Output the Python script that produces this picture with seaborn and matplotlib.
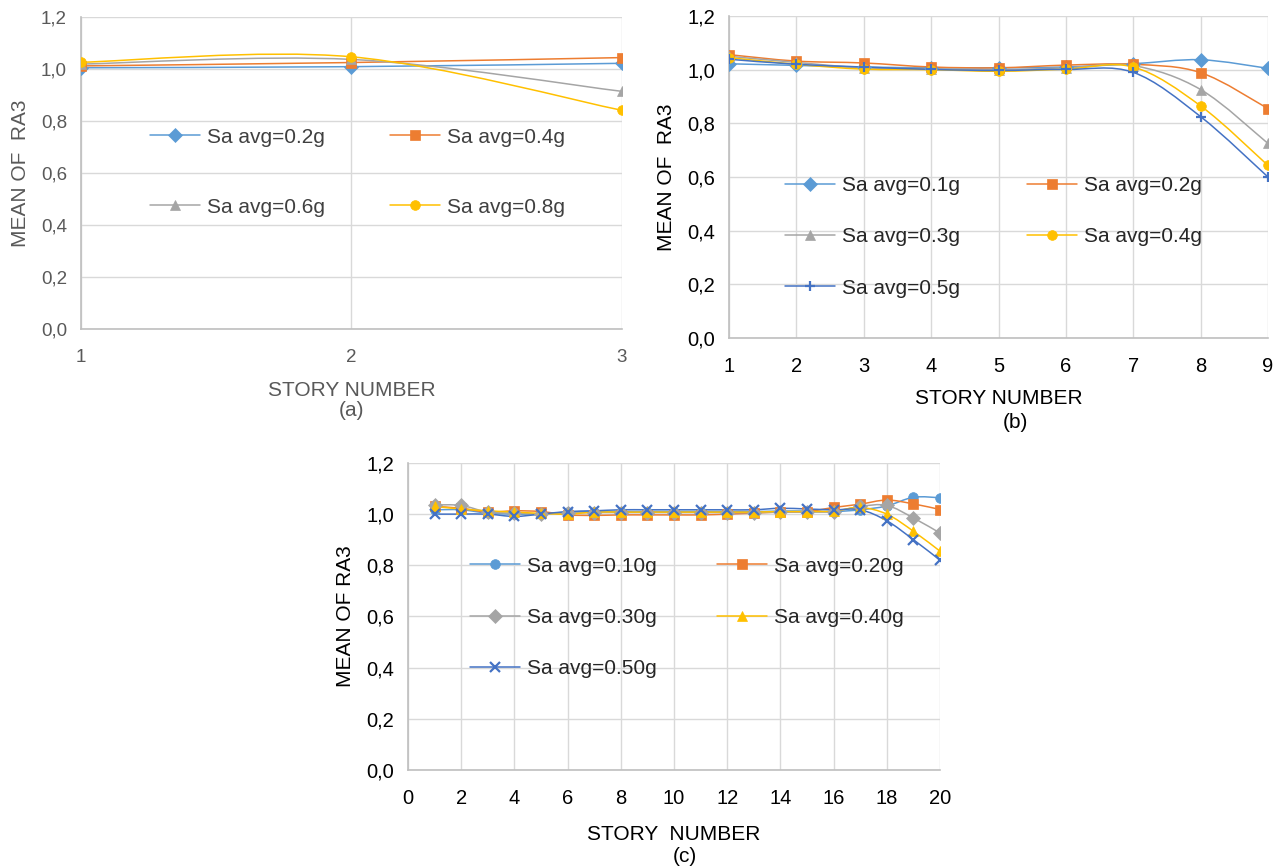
import numpy as np
import pandas as pd
import matplotlib
matplotlib.use("Agg")
import matplotlib.pyplot as plt
from matplotlib.path import Path
from matplotlib.patches import PathPatch
from matplotlib.lines import Line2D
from matplotlib.ticker import FuncFormatter
import seaborn as sns

# --- data ---
stories_a = [1, 2, 3]
labels_a = ["Sa avg=0.2g", "Sa avg=0.4g", "Sa avg=0.6g", "Sa avg=0.8g"]
a_02 = [1.006, 1.010, 1.023]
a_04 = [1.013, 1.026, 1.045]
a_06 = [1.020, 1.038, 0.915]
a_08 = [1.027, 1.048, 0.842]

stories_b = [1, 2, 3, 4, 5, 6, 7, 8, 9]
labels_b = ["Sa avg=0.1g", "Sa avg=0.2g", "Sa avg=0.3g", "Sa avg=0.4g", "Sa avg=0.5g"]
b_01 = [1.022, 1.016, 1.010, 1.007, 1.007, 1.010, 1.022, 1.037, 1.005]
b_02 = [1.056, 1.032, 1.025, 1.010, 1.007, 1.017, 1.020, 0.989, 0.855]
b_03 = [1.050, 1.027, 1.007, 1.004, 1.000, 1.007, 1.015, 0.926, 0.725]
b_04 = [1.045, 1.020, 1.002, 1.000, 0.994, 1.002, 1.010, 0.865, 0.643]
b_05 = [1.039, 1.020, 1.010, 1.001, 0.997, 1.001, 0.990, 0.825, 0.600]

stories_c = list(range(1, 21))
labels_c = ["Sa avg=0.10g", "Sa avg=0.20g", "Sa avg=0.30g", "Sa avg=0.40g", "Sa avg=0.50g"]
c_010 = [1.017, 1.017, 1.004, 1.000, 1.000, 1.008, 1.010, 1.010, 1.010, 1.010,
         1.010, 1.010, 1.010, 1.012, 1.012, 1.010, 1.017, 1.032, 1.066, 1.064]
c_020 = [1.030, 1.023, 1.008, 1.013, 1.010, 0.997, 0.995, 0.997, 0.997, 0.997,
         0.997, 1.000, 1.004, 1.008, 1.010, 1.026, 1.039, 1.055, 1.040, 1.018]
c_030 = [1.036, 1.034, 1.008, 1.004, 1.000, 1.004, 1.006, 1.006, 1.006, 1.006,
         1.006, 1.006, 1.006, 1.008, 1.008, 1.010, 1.030, 1.034, 0.985, 0.926]
c_040 = [1.030, 1.020, 1.013, 1.008, 1.003, 1.000, 1.008, 1.008, 1.008, 1.008,
         1.008, 1.008, 1.008, 1.010, 1.010, 1.012, 1.026, 1.000, 0.933, 0.855]
c_050 = [1.000, 1.000, 1.000, 0.991, 1.000, 1.010, 1.013, 1.017, 1.017, 1.017,
         1.017, 1.017, 1.017, 1.023, 1.020, 1.017, 1.017, 0.974, 0.900, 0.820]

# excel office palette
BLUE, ORANGE, GRAY, GOLD, DBLUE = "#5B9BD5", "#ED7D31", "#A5A5A5", "#FFC000", "#4472C4"

sns.set_theme(style="white")
plt.rcParams["font.family"] = ["Liberation Sans", "DejaVu Sans"]


def smooth_curve(ax, x, y, color):
    # excel style smoothed line: cubic bezier through the points
    pts = np.column_stack([x, y]).astype(float)
    n = len(pts)
    verts = [pts[0]]
    codes = [Path.MOVETO]
    for i in range(n - 1):
        p0 = pts[max(i - 1, 0)]
        p1 = pts[i]
        p2 = pts[i + 1]
        p3 = pts[min(i + 2, n - 1)]
        verts += [p1 + (p2 - p0) / 6, p2 - (p3 - p1) / 6, p2]
        codes += [Path.CURVE4] * 3
    ax.add_patch(PathPatch(Path(verts, codes), fill=False, edgecolor=color,
                           lw=1.1, zorder=2))


def draw_panel(ax, stories, series, labels, colors, markers, txt, tsize):
    handles = []
    for vals, lab, col, mk in zip(series, labels, colors, markers):
        df = pd.DataFrame({"story": stories, "ra3": vals})
        smooth_curve(ax, df["story"], df["ra3"], col)
        mew = 1.6 if mk in ("+", "x") else 0.5
        sns.lineplot(data=df, x="story", y="ra3", ax=ax, color=col, marker=mk,
                     linestyle="", markersize=7, markeredgewidth=mew,
                     markeredgecolor=col, zorder=3)
        handles.append(Line2D([0], [0], color=col, lw=1.1, marker=mk,
                              markersize=7, markeredgewidth=mew, label=lab))
    ax.set_ylim(0, 1.2)
    ax.set_yticks(np.arange(0, 1.21, 0.2))
    ax.yaxis.set_major_formatter(FuncFormatter(lambda v, p: f"{v:.1f}".replace(".", ",")))
    ax.grid(True, color="#D9D9D9", lw=1)
    for s in ["top", "right"]:
        ax.spines[s].set_visible(False)
    for s in ["left", "bottom"]:
        ax.spines[s].set_color("#BFBFBF")
        ax.spines[s].set_linewidth(1.2)
    ax.tick_params(axis="both", labelsize=tsize, colors=txt, length=0)
    ax.tick_params(axis="x", pad=14)
    ax.tick_params(axis="y", pad=10)
    # legend is filled row by row in the reference
    n = len(handles)
    order = list(range(0, n, 2)) + list(range(1, n, 2))
    return [handles[i] for i in order]


fig = plt.figure(figsize=(12.79, 8.66), dpi=100)
ax_a = fig.add_axes([0.0633, 0.620, 0.423, 0.360])
ax_b = fig.add_axes([0.570, 0.6097, 0.4214, 0.3718])
ax_c = fig.add_axes([0.319, 0.1109, 0.416, 0.3545])

# (a)
h = draw_panel(ax_a, stories_a, [a_02, a_04, a_06, a_08], labels_a,
               [BLUE, ORANGE, GRAY, GOLD], ["D", "s", "^", "o"], "#595959", 13.5)
ax_a.set_xlim(1, 3)
ax_a.set_xticks(stories_a)
ax_a.set_xlabel("STORY NUMBER", fontsize=15, color="#595959", labelpad=11)
ax_a.set_ylabel("MEAN OF  RA3", fontsize=15, color="#595959", labelpad=8)
ax_a.legend(handles=h, ncol=2, frameon=False, loc="upper left",
            bbox_to_anchor=(0.1275, 0.646), fontsize=15, handlelength=2.4,
            columnspacing=3.1, labelspacing=2.45, borderpad=0, borderaxespad=0,
            handletextpad=0.34, labelcolor="#404040")
fig.text(352 / 1279, 1 - 410 / 866, "(a)", ha="center", va="center",
         fontsize=15, color="#595959")

# (b)
h = draw_panel(ax_b, stories_b, [b_01, b_02, b_03, b_04, b_05], labels_b,
               [BLUE, ORANGE, GRAY, GOLD, DBLUE], ["D", "s", "^", "o", "+"], "#000000", 14.5)
ax_b.set_xlim(1, 9)
ax_b.set_xticks(stories_b)
ax_b.set_xlabel("STORY NUMBER", fontsize=15, color="black", labelpad=9)
ax_b.set_ylabel("MEAN OF  RA3", fontsize=15, color="black", labelpad=8)
ax_b.legend(handles=h, ncol=2, frameon=False, loc="upper left",
            bbox_to_anchor=(0.104, 0.503), fontsize=15, handlelength=2.4,
            columnspacing=3.2, labelspacing=1.55, borderpad=0, borderaxespad=0,
            handletextpad=0.34)
fig.text(1015 / 1279, 1 - 422 / 866, "(b)", ha="center", va="center",
         fontsize=15, color="black")

# (c)
h = draw_panel(ax_c, stories_c, [c_010, c_020, c_030, c_040, c_050], labels_c,
               [BLUE, ORANGE, GRAY, GOLD, DBLUE], ["o", "s", "D", "^", "x"], "#000000", 14.5)
ax_c.set_xlim(0, 20)
ax_c.set_xticks(range(0, 21, 2))
ax_c.set_xlabel("STORY  NUMBER", fontsize=15, color="black", labelpad=12)
ax_c.set_ylabel("MEAN OF RA3", fontsize=15, color="black", labelpad=8)
ax_c.legend(handles=h, ncol=2, frameon=False, loc="upper left",
            bbox_to_anchor=(0.1165, 0.695), fontsize=15, handlelength=2.4,
            columnspacing=2.9, labelspacing=1.55, borderpad=0, borderaxespad=0,
            handletextpad=0.34)
fig.text(685 / 1279, 1 - 856 / 866, "(c)", ha="center", va="center",
         fontsize=15, color="black")

fig.savefig("out.png", dpi=100)
